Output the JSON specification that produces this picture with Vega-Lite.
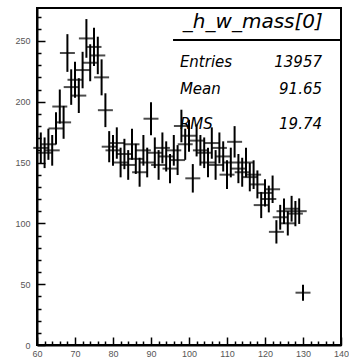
{
  "$schema": "https://vega.github.io/schema/vega-lite/v6.json",
  "width": 304,
  "height": 337,
  "autosize": "none",
  "padding": {"left": 37, "top": 8, "right": 8, "bottom": 19},
  "background": "white",
  "config": {
    "view": {"stroke": "black", "strokeWidth": 2},
    "axis": {"grid": false, "domainColor": "black", "domainWidth": 2, "tickColor": "black", "tickWidth": 1.5, "labelFont": "Liberation Sans", "labelFontSize": 9, "labelColor": "#555555", "labelOverlap": false, "labelFlush": false},
    "axisX": {"labelPadding": 12, "labelExpr": "datum.value % 10 === 0 ? datum.label : ''", "tickSize": {"condition": {"test": "datum.value % 10 === 0", "value": -8}, "value": -4}},
    "axisY": {"labelPadding": 15, "labelExpr": "datum.value % 50 === 0 ? datum.label : ''", "tickSize": {"condition": {"test": "datum.value % 50 === 0", "value": -8}, "value": -4}}
  },
  "datasets": {
    "h": [
      {"x": 61, "n": 162, "ey": 12.7}, {"x": 62, "n": 158, "ey": 12.6}, {"x": 63, "n": 165, "ey": 12.8}, {"x": 64, "n": 160, "ey": 12.6},
      {"x": 65, "n": 178, "ey": 13.3}, {"x": 66, "n": 196, "ey": 14.0}, {"x": 67, "n": 183, "ey": 13.5}, {"x": 68, "n": 240, "ey": 15.5},
      {"x": 69, "n": 212, "ey": 14.6}, {"x": 70, "n": 218, "ey": 14.8}, {"x": 71, "n": 205, "ey": 14.3}, {"x": 72, "n": 226, "ey": 15.0},
      {"x": 73, "n": 252, "ey": 15.9}, {"x": 74, "n": 232, "ey": 15.2}, {"x": 75, "n": 245, "ey": 15.7}, {"x": 76, "n": 238, "ey": 15.4},
      {"x": 77, "n": 220, "ey": 14.8}, {"x": 78, "n": 193, "ey": 13.9}, {"x": 79, "n": 163, "ey": 12.8}, {"x": 80, "n": 160, "ey": 12.6},
      {"x": 81, "n": 166, "ey": 12.9}, {"x": 82, "n": 150, "ey": 12.2}, {"x": 83, "n": 157, "ey": 12.5}, {"x": 84, "n": 148, "ey": 12.2},
      {"x": 85, "n": 165, "ey": 12.8}, {"x": 86, "n": 153, "ey": 12.4}, {"x": 87, "n": 142, "ey": 11.9}, {"x": 88, "n": 160, "ey": 12.6},
      {"x": 89, "n": 150, "ey": 12.2}, {"x": 90, "n": 186, "ey": 13.6}, {"x": 91, "n": 158, "ey": 12.6}, {"x": 92, "n": 148, "ey": 12.2},
      {"x": 93, "n": 162, "ey": 12.7}, {"x": 94, "n": 155, "ey": 12.4}, {"x": 95, "n": 145, "ey": 12.0}, {"x": 96, "n": 160, "ey": 12.6},
      {"x": 97, "n": 152, "ey": 12.3}, {"x": 98, "n": 180, "ey": 13.4}, {"x": 99, "n": 165, "ey": 12.8}, {"x": 100, "n": 172, "ey": 13.1},
      {"x": 101, "n": 137, "ey": 11.7}, {"x": 102, "n": 168, "ey": 13.0}, {"x": 103, "n": 160, "ey": 12.6}, {"x": 104, "n": 158, "ey": 12.6},
      {"x": 105, "n": 150, "ey": 12.2}, {"x": 106, "n": 166, "ey": 12.9}, {"x": 107, "n": 148, "ey": 12.2}, {"x": 108, "n": 162, "ey": 12.7},
      {"x": 109, "n": 155, "ey": 12.4}, {"x": 110, "n": 140, "ey": 11.8}, {"x": 111, "n": 150, "ey": 12.2}, {"x": 112, "n": 167, "ey": 12.9},
      {"x": 113, "n": 145, "ey": 12.0}, {"x": 114, "n": 142, "ey": 11.9}, {"x": 115, "n": 150, "ey": 12.2}, {"x": 116, "n": 138, "ey": 11.7},
      {"x": 117, "n": 140, "ey": 11.8}, {"x": 118, "n": 132, "ey": 11.5}, {"x": 119, "n": 115, "ey": 10.7}, {"x": 120, "n": 125, "ey": 11.2},
      {"x": 121, "n": 120, "ey": 11.0}, {"x": 122, "n": 128, "ey": 11.3}, {"x": 123, "n": 93, "ey": 9.6}, {"x": 124, "n": 105, "ey": 10.2},
      {"x": 125, "n": 110, "ey": 10.5}, {"x": 126, "n": 100, "ey": 10.0}, {"x": 127, "n": 112, "ey": 10.6}, {"x": 128, "n": 108, "ey": 10.4},
      {"x": 129, "n": 110, "ey": 10.5}, {"x": 130, "n": 43, "ey": 6.6}
    ],
    "stats": [
      {"k": "Entries", "v": "13957", "sy": 232.7},
      {"k": "Mean", "v": "91.65", "sy": 210.5},
      {"k": "RMS", "v": "19.74", "sy": 181.7}
    ]
  },
  "layer": [
    {
      "data": {"name": "h"},
      "mark": {"type": "errorbar", "color": "black", "thickness": 2},
      "encoding": {
        "x": {
          "field": "x", "type": "quantitative",
          "scale": {"domain": [60, 140], "nice": false, "zero": false},
          "axis": {"title": null, "values": [60,62,64,66,68,70,72,74,76,78,80,82,84,86,88,90,92,94,96,98,100,102,104,106,108,110,112,114,116,118,120,122,124,126,128,130,132,134,136,138,140]}
        },
        "y": {
          "field": "n", "type": "quantitative",
          "scale": {"domain": [0, 277], "nice": false},
          "axis": {"title": null, "values": [0,10,20,30,40,50,60,70,80,90,100,110,120,130,140,150,160,170,180,190,200,210,220,230,240,250,260,270]}
        },
        "yError": {"field": "ey"}
      }
    },
    {
      "data": {"name": "h"},
      "mark": {"type": "tick", "orient": "horizontal", "size": 15, "thickness": 2, "color": "black"},
      "encoding": {
        "x": {"field": "x", "type": "quantitative", "axis": {"title": null, "values": [60,62,64,66,68,70,72,74,76,78,80,82,84,86,88,90,92,94,96,98,100,102,104,106,108,110,112,114,116,118,120,122,124,126,128,130,132,134,136,138,140]}},
        "y": {"field": "n", "type": "quantitative", "axis": {"title": null, "values": [0,10,20,30,40,50,60,70,80,90,100,110,120,130,140,150,160,170,180,190,200,210,220,230,240,250,260,270]}}
      }
    },
    {
      "data": {"values": [{"t": "_h_w_mass[0]", "tx": 116.8, "ty": 265.5}]},
      "mark": {"type": "text", "font": "DejaVu Sans", "fontStyle": "italic", "fontSize": 20, "align": "center", "baseline": "middle", "color": "black"},
      "encoding": {
        "x": {"field": "tx", "type": "quantitative", "axis": {"title": null, "values": [60,62,64,66,68,70,72,74,76,78,80,82,84,86,88,90,92,94,96,98,100,102,104,106,108,110,112,114,116,118,120,122,124,126,128,130,132,134,136,138,140]}},
        "y": {"field": "ty", "type": "quantitative", "axis": {"title": null, "values": [0,10,20,30,40,50,60,70,80,90,100,110,120,130,140,150,160,170,180,190,200,210,220,230,240,250,260,270]}},
        "text": {"field": "t"}
      }
    },
    {
      "data": {"values": [{"a": 95.8, "b": 140, "c": 250.8}]},
      "mark": {"type": "rule", "color": "black", "strokeWidth": 2},
      "encoding": {
        "x": {"field": "a", "type": "quantitative", "axis": {"title": null, "values": [60,62,64,66,68,70,72,74,76,78,80,82,84,86,88,90,92,94,96,98,100,102,104,106,108,110,112,114,116,118,120,122,124,126,128,130,132,134,136,138,140]}},
        "x2": {"field": "b"},
        "y": {"field": "c", "type": "quantitative", "axis": {"title": null, "values": [0,10,20,30,40,50,60,70,80,90,100,110,120,130,140,150,160,170,180,190,200,210,220,230,240,250,260,270]}}
      }
    },
    {
      "data": {"name": "stats"},
      "mark": {"type": "text", "font": "DejaVu Sans", "fontStyle": "italic", "fontSize": 15, "align": "left", "baseline": "middle", "color": "black"},
      "encoding": {
        "x": {"datum": 97.6, "type": "quantitative", "axis": {"title": null, "values": [60,62,64,66,68,70,72,74,76,78,80,82,84,86,88,90,92,94,96,98,100,102,104,106,108,110,112,114,116,118,120,122,124,126,128,130,132,134,136,138,140]}},
        "y": {"field": "sy", "type": "quantitative", "axis": {"title": null, "values": [0,10,20,30,40,50,60,70,80,90,100,110,120,130,140,150,160,170,180,190,200,210,220,230,240,250,260,270]}},
        "text": {"field": "k"}
      }
    },
    {
      "data": {"name": "stats"},
      "mark": {"type": "text", "font": "DejaVu Sans", "fontStyle": "italic", "fontSize": 15, "align": "right", "baseline": "middle", "color": "black"},
      "encoding": {
        "x": {"datum": 135, "type": "quantitative", "axis": {"title": null, "values": [60,62,64,66,68,70,72,74,76,78,80,82,84,86,88,90,92,94,96,98,100,102,104,106,108,110,112,114,116,118,120,122,124,126,128,130,132,134,136,138,140]}},
        "y": {"field": "sy", "type": "quantitative", "axis": {"title": null, "values": [0,10,20,30,40,50,60,70,80,90,100,110,120,130,140,150,160,170,180,190,200,210,220,230,240,250,260,270]}},
        "text": {"field": "v"}
      }
    }
  ]
}
